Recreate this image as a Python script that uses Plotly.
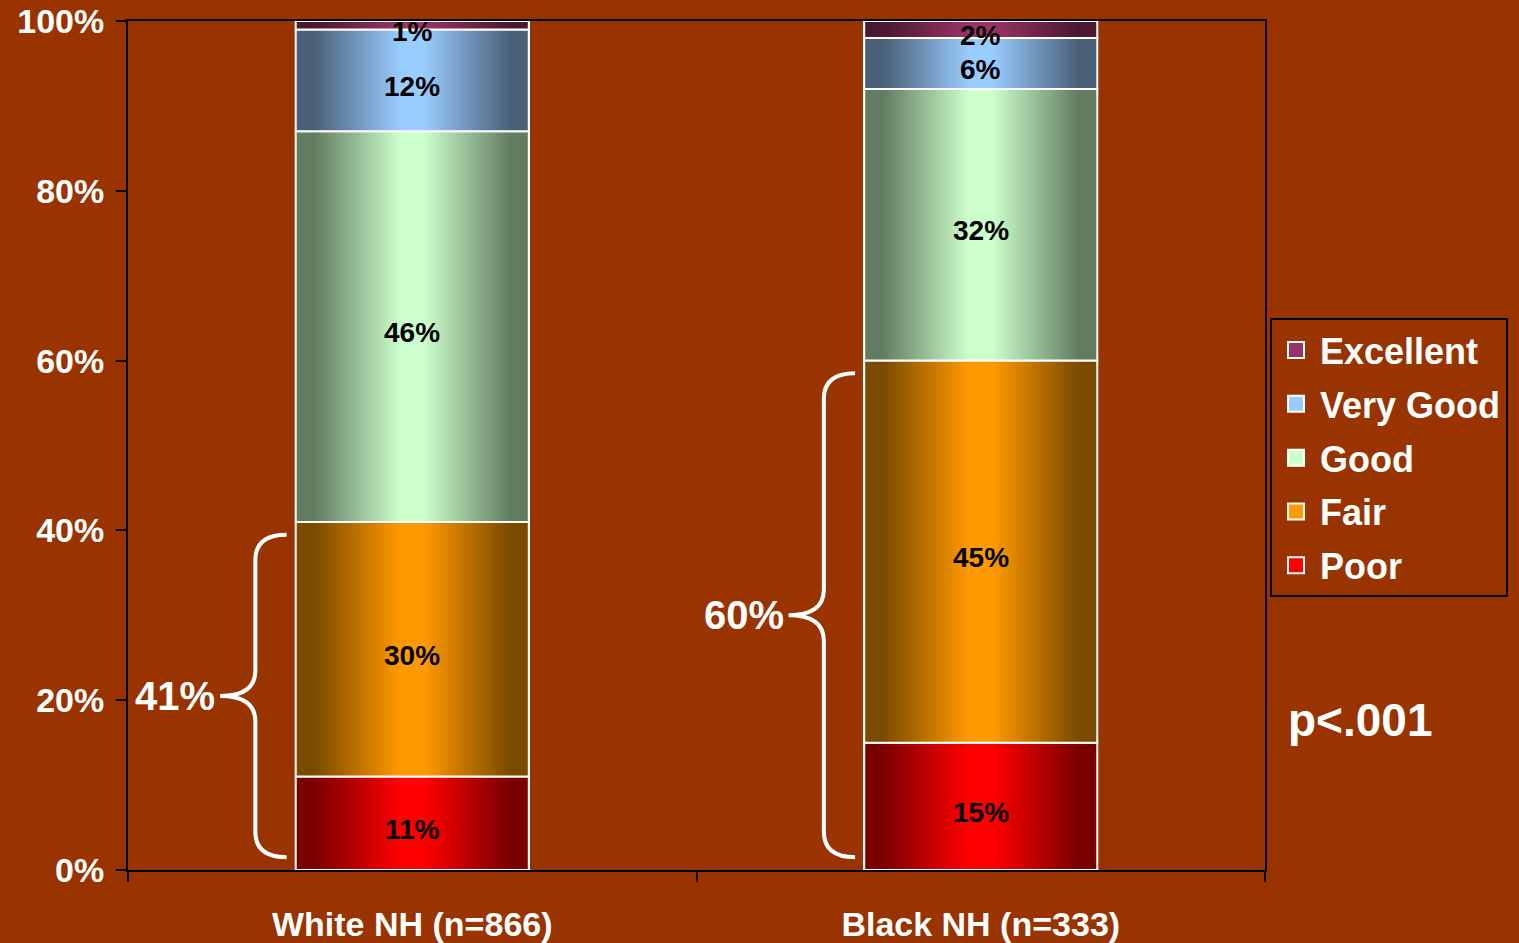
import plotly.graph_objects as go

# ---- data -------------------------------------------------------------
groups = ["White NH (n=866)", "Black NH (n=333)"]
ratings = ["Poor", "Fair", "Good", "Very Good", "Excellent"]
poor = [11, 15]
fair = [30, 45]
good = [46, 32]
very_good = [12, 6]
excellent = [1, 2]
fair_or_poor = [41, 60]          # share rating health fair or poor
y_ticks = [0, 20, 40, 60, 80, 100]
y_tick_text = ["0%", "20%", "40%", "60%", "80%", "100%"]
p_value = "p<.001"

# ---- styling ----------------------------------------------------------
BG = "#993300"
FONT = "Liberation Sans, Arial, sans-serif"
light = {"Poor": "#ff0000", "Fair": "#ff9900", "Good": "#ccffcc",
         "Very Good": "#99ccff", "Excellent": "#993366"}
dark = {"Poor": "#7a0000", "Fair": "#7a4a00", "Good": "#627c62",
        "Very Good": "#4a6078", "Excellent": "#4a1830"}
bar_width = 0.41

series = dict(zip(ratings, [poor, fair, good, very_good, excellent]))
x_pos = list(range(len(groups)))

fig = go.Figure()

# stacked bars
for name in ratings:
    fig.add_trace(go.Bar(
        x=x_pos, y=series[name], width=bar_width, name=name,
        marker=dict(color=light[name], line=dict(color="white", width=2)),
        showlegend=False, hoverinfo="skip",
    ))

# horizontal sheen on every segment: dark edges, bright centre
bases = [0.0] * len(groups)
labels = []
for name in ratings:
    vals = series[name]
    for i, v in enumerate(vals):
        x0 = x_pos[i] - bar_width / 2
        x1 = x_pos[i] + bar_width / 2
        y0 = bases[i]
        y1 = bases[i] + v
        fig.add_trace(go.Scatter(
            x=[x0, x1, x1, x0, x0], y=[y0, y0, y1, y1, y0],
            mode="lines", fill="toself",
            fillcolor=light[name],
            fillgradient=dict(type="horizontal", colorscale=[
                [0, dark[name]], [0.08, dark[name]], [0.45, light[name]],
                [0.55, light[name]], [0.92, dark[name]], [1, dark[name]]]),
            line=dict(color="white", width=2),
            showlegend=False, hoverinfo="skip",
        ))
        labels.append((x_pos[i], y0 + v / 2, f"{v}%"))
        bases[i] = y1

# legend keys (square swatches, top to bottom: Excellent ... Poor)
for rank, name in enumerate(reversed(ratings)):
    fig.add_trace(go.Scatter(
        x=[None], y=[None], mode="markers", name=name,
        legendgroup=name, legendrank=rank + 1,
        marker=dict(symbol="square", size=16, color=light[name],
                    line=dict(color="white", width=2)),
    ))

# segment value labels
for x, y, t in labels:
    fig.add_annotation(x=x, y=y, xref="x", yref="y", text=t,
                       showarrow=False, yshift=-6,
                       font=dict(family=FONT, size=28, color="black",
                                 weight="bold"))

# curly braces grouping Poor + Fair
end_gap, arm, tip = 0.016, 0.055, 0.062
r = 3.0
for i, total in enumerate(fair_or_poor):
    xe = x_pos[i] - bar_width / 2 - end_gap
    xv = xe - arm
    xt = xv - tip
    yb, yt, ym = 1.5, total - 1.5, total / 2
    path = (f"M{xe},{yt} Q{xv},{yt} {xv},{yt - r} "
            f"L{xv},{ym + r} Q{xv},{ym} {xt},{ym} "
            f"Q{xv},{ym} {xv},{ym - r} "
            f"L{xv},{yb + r} Q{xv},{yb} {xe},{yb}")
    fig.add_shape(type="path", path=path, xref="x", yref="y",
                  line=dict(color="white", width=4))
    fig.add_annotation(x=xt, y=ym, xref="x", yref="y", text=f"{total}%",
                       showarrow=False, xanchor="right", yanchor="middle",
                       xshift=-3,
                       font=dict(family=FONT, size=40, color="white",
                                 weight="bold"))

fig.add_annotation(x=1.0836, y=0.1767, xref="paper", yref="paper",
                   text=p_value, showarrow=False, xanchor="center",
                   yanchor="middle",
                   font=dict(family=FONT, size=46, color="white",
                             weight="bold"))

fig.update_layout(
    width=1519, height=943,
    barmode="stack",
    paper_bgcolor=BG, plot_bgcolor=BG,
    margin=dict(l=128, r=254, t=21, b=73, autoexpand=False),
    font=dict(family=FONT, color="white"),
    legend=dict(
        x=1.0044, y=0.650, xanchor="left", yanchor="top",
        traceorder="grouped", tracegroupgap=4, itemwidth=38,
        bgcolor=BG, bordercolor="black", borderwidth=2,
        font=dict(family=FONT, size=36, color="white", weight="bold"),
    ),
    xaxis=dict(
        range=[-0.5, 1.5], tickmode="array", tickvals=x_pos,
        ticktext=groups, ticks="", showgrid=False, zeroline=False,
        showline=True, linecolor="black", linewidth=2, mirror=True,
        ticklabelstandoff=23,
        tickfont=dict(family=FONT, size=34, color="white", weight="bold"),
        minor=dict(tickmode="array", tickvals=[-0.5, 0.5, 1.5],
                   ticks="outside", ticklen=10, tickwidth=2,
                   tickcolor="black", showgrid=False),
    ),
    yaxis=dict(
        range=[0, 100], tickmode="array", tickvals=y_ticks,
        ticktext=y_tick_text, ticks="outside", ticklen=10, tickwidth=2,
        tickcolor="black", showgrid=False, zeroline=False,
        showline=True, linecolor="black", linewidth=2, mirror=True,
        ticklabelstandoff=5,
        tickfont=dict(family=FONT, size=34, color="white", weight="bold"),
    ),
)

fig.write_html("out.html")
